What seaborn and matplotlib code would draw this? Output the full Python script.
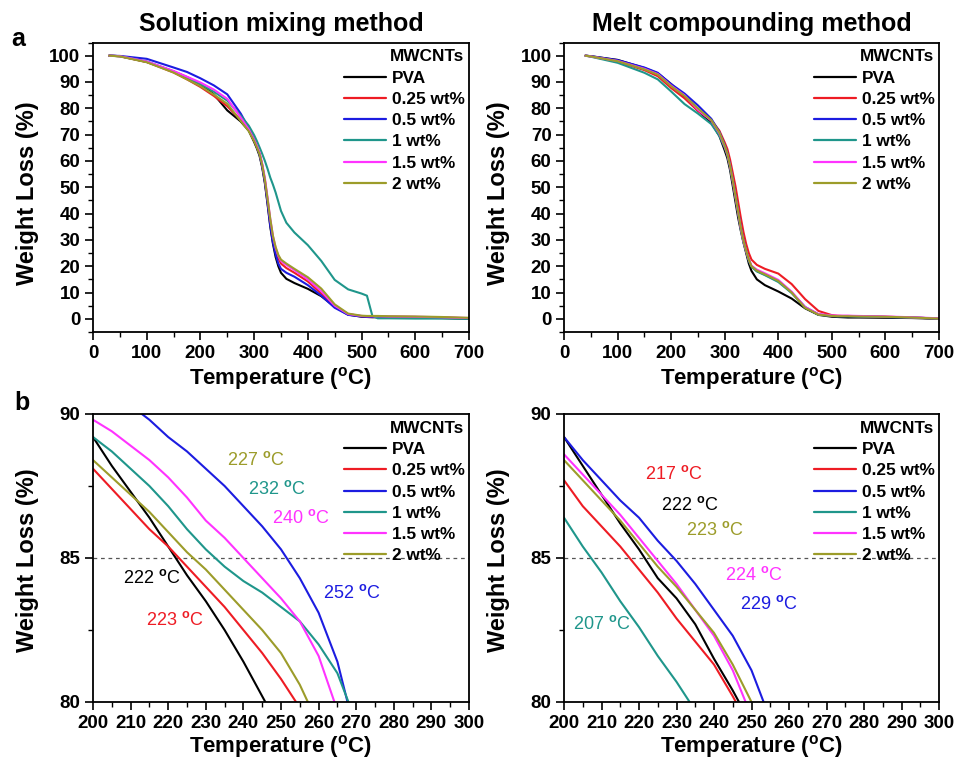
import matplotlib
matplotlib.use("Agg")
import matplotlib.pyplot as plt
import matplotlib.ticker as mticker
import pandas as pd
import seaborn as sns

# ---- data -------------------------------------------------------------
samples = ["PVA", "0.25 wt%", "0.5 wt%", "1 wt%", "1.5 wt%", "2 wt%"]
colors = ["#000000", "#ee1c24", "#1c1ce0", "#1f968b", "#ff33ff", "#9c9c2a"]

# (a) full TGA curves
temp_sol = [30, 50, 100, 150, 175, 200, 225, 250, 275, 290, 300, 305, 310, 315, 320,
            325, 330, 335, 340, 345, 350, 360, 375, 400, 425, 450, 475, 500, 510, 520,
            530, 550, 600, 650, 700]
temp_melt = [40, 50, 100, 150, 175, 200, 225, 250, 275, 290, 300, 305, 310, 315, 320,
             325, 330, 335, 340, 345, 350, 360, 375, 400, 425, 450, 475, 500, 510, 520,
             530, 550, 600, 650, 700]

sol_pva = [100, 99.8, 97.6, 94.0, 91.8, 89.2, 85.3, 79.2, 75.0, 71.5, 67.2, 64.8, 62.0, 57.5, 51.5,
           43.5, 35.0, 28.5, 23.5, 20.0, 17.5, 15.2, 13.6, 11.4, 8.6, 4.6, 1.6, 0.8, 0.7, 0.6,
           0.6, 0.5, 0.4, 0.3, 0.0]
sol_025 = [100, 99.8, 97.6, 93.6, 91.0, 88.1, 84.7, 80.8, 75.5, 72.0, 68.0, 65.5, 62.8, 58.5, 52.5,
           45.0, 37.0, 30.5, 26.0, 23.0, 21.0, 19.3, 17.5, 14.2, 9.6, 4.8, 1.8, 1.0, 0.9, 0.8,
           0.8, 0.8, 0.7, 0.5, 0.2]
sol_05 = [100, 99.9, 98.8, 95.5, 93.8, 91.4, 88.7, 85.3, 78.0, 72.5, 68.0, 65.5, 62.5, 58.0, 52.0,
          44.0, 35.5, 29.0, 24.5, 21.0, 19.0, 17.5, 16.0, 12.8, 8.8, 4.2, 1.5, 0.9, 0.8, 0.8,
          0.8, 0.7, 0.6, 0.4, 0.1]
sol_1 = [100, 99.8, 97.8, 94.0, 91.8, 89.2, 86.3, 82.9, 77.2, 73.4, 69.8, 67.6, 65.2, 62.7, 60.0,
         57.0, 53.7, 51.0, 48.0, 44.5, 41.0, 36.5, 32.8, 28.0, 22.0, 14.8, 11.2, 9.6, 8.8, 1.2,
         0.2, 0.2, 0.1, 0.1, 0.0]
sol_15 = [100, 99.8, 97.8, 94.2, 92.0, 89.8, 87.1, 83.6, 76.5, 72.0, 68.0, 65.8, 63.2, 59.0, 53.5,
          46.0, 38.0, 31.5, 27.0, 24.0, 22.0, 20.5, 18.5, 15.0, 10.5, 5.0, 1.8, 1.1, 1.0, 1.0,
          1.0, 0.9, 0.8, 0.6, 0.3]
sol_2 = [100, 99.7, 97.5, 93.6, 91.0, 88.4, 85.2, 81.7, 75.2, 71.3, 67.5, 65.2, 62.6, 58.5, 52.8,
         45.5, 38.0, 31.5, 27.3, 24.3, 22.5, 21.0, 19.0, 15.8, 11.5, 5.5, 2.0, 1.2, 1.1, 1.1,
         1.1, 1.0, 0.9, 0.7, 0.4]

melt_pva = [100, 99.8, 98.4, 95.3, 93.3, 89.2, 84.3, 79.2, 74.5, 69.5, 64.0, 61.0, 56.5, 50.5, 44.5,
            38.5, 33.5, 29.0, 25.0, 21.0, 18.2, 15.0, 12.8, 10.4, 7.7, 4.0, 1.5, 0.8, 0.7, 0.6,
            0.5, 0.5, 0.4, 0.3, 0.0]
melt_025 = [100, 99.7, 97.8, 94.5, 92.2, 87.7, 83.8, 79.0, 75.5, 71.5, 67.0, 64.5, 60.5, 55.5, 50.5,
            44.5, 38.5, 33.0, 28.5, 25.0, 22.5, 20.5, 19.0, 17.2, 13.2, 7.5, 3.0, 1.4, 1.2, 1.1,
            1.1, 1.0, 0.8, 0.5, 0.1]
melt_05 = [100, 99.8, 98.3, 95.5, 93.5, 89.2, 85.6, 81.1, 76.0, 71.0, 66.0, 63.0, 58.5, 53.0, 47.0,
           41.0, 35.0, 30.0, 26.0, 22.5, 20.0, 18.2, 16.8, 14.3, 10.0, 4.5, 1.7, 1.1, 1.0, 1.0,
           1.0, 0.9, 0.7, 0.5, 0.1]
melt_1 = [100, 99.6, 97.3, 93.5, 91.0, 86.4, 81.6, 78.0, 74.0, 69.5, 65.0, 62.0, 57.5, 52.0, 46.0,
          40.0, 34.0, 29.0, 25.5, 22.0, 19.8, 18.0, 16.6, 14.0, 9.8, 4.3, 1.6, 1.1, 1.0, 1.0,
          1.0, 0.9, 0.7, 0.5, 0.1]
melt_15 = [100, 99.7, 98.0, 95.0, 93.0, 88.6, 84.9, 79.5, 75.3, 70.5, 65.5, 62.5, 58.0, 52.5, 46.5,
           40.5, 34.5, 29.5, 25.8, 22.5, 20.2, 18.7, 17.3, 14.8, 10.3, 4.5, 1.8, 1.3, 1.2, 1.2,
           1.2, 1.1, 0.9, 0.6, 0.2]
melt_2 = [100, 99.7, 97.9, 94.8, 92.8, 88.4, 84.7, 80.0, 75.5, 70.8, 65.8, 62.8, 58.2, 52.8, 46.8,
          40.8, 34.8, 29.8, 26.0, 22.5, 20.0, 18.3, 16.9, 14.4, 10.0, 4.2, 1.6, 1.1, 1.0, 1.0,
          1.0, 0.9, 0.8, 0.5, 0.1]

# (b) zoom on 200-300 C
temp_zoom = [200, 205, 210, 215, 220, 225, 230, 235, 240, 245, 250, 255, 260, 265, 270]

zsol_pva = [89.2, 88.2, 87.3, 86.4, 85.4, 84.4, 83.5, 82.5, 81.4, 80.2, 79.0, 77.8, 76.6, 75.4, 74.2]
zsol_025 = [88.1, 87.4, 86.7, 86.0, 85.4, 84.7, 84.0, 83.3, 82.5, 81.7, 80.8, 79.8, 78.7, 77.5, 76.3]
zsol_05 = [91.4, 90.9, 90.3, 89.8, 89.2, 88.7, 88.1, 87.5, 86.8, 86.1, 85.3, 84.3, 83.1, 81.4, 78.8]
zsol_1 = [89.2, 88.7, 88.1, 87.5, 86.8, 86.0, 85.3, 84.7, 84.2, 83.8, 83.3, 82.8, 82.0, 81.0, 79.3]
zsol_15 = [89.8, 89.4, 88.9, 88.4, 87.8, 87.1, 86.3, 85.7, 85.0, 84.3, 83.6, 82.8, 81.6, 79.7, 77.5]
zsol_2 = [88.4, 87.8, 87.2, 86.6, 85.9, 85.2, 84.6, 83.9, 83.2, 82.5, 81.7, 80.6, 79.2, 77.7, 76.2]

zmelt_pva = [89.2, 88.2, 87.2, 86.2, 85.3, 84.3, 83.6, 82.7, 81.5, 80.4, 79.2, 78.0, 76.8, 75.6, 74.4]
zmelt_025 = [87.7, 86.8, 86.1, 85.4, 84.6, 83.8, 82.9, 82.1, 81.3, 80.2, 79.0, 77.8, 76.5, 75.2, 73.9]
zmelt_05 = [89.2, 88.4, 87.7, 87.0, 86.4, 85.6, 84.9, 84.1, 83.2, 82.3, 81.1, 79.4, 77.6, 75.6, 73.5]
zmelt_1 = [86.4, 85.4, 84.5, 83.5, 82.6, 81.6, 80.7, 79.7, 78.7, 77.7, 76.7, 75.7, 74.7, 73.7, 72.7]
zmelt_15 = [88.6, 87.9, 87.2, 86.5, 85.7, 84.9, 84.1, 83.2, 82.3, 81.1, 79.5, 77.9, 76.3, 74.7, 73.1]
zmelt_2 = [88.4, 87.7, 87.0, 86.3, 85.5, 84.7, 84.0, 83.2, 82.4, 81.3, 80.0, 78.6, 77.2, 75.8, 74.4]

# onset temperatures at 85 %
onset_sol = [222, 223, 252, 232, 240, 227]
onset_melt = [222, 217, 229, 207, 224, 223]
# where the onset labels sit (T, W)
label_pos_sol = [(215.6, 84.3), (221.8, 82.85), (268.8, 83.8), (249.0, 87.4), (255.4, 86.4), (243.2, 88.4)]
label_pos_melt = [(233.6, 86.84), (229.2, 87.9), (254.7, 83.4), (210.0, 82.7), (250.5, 84.4), (240.3, 85.97)]


# ---- style ------------------------------------------------------------
sns.set_theme(style="ticks")
plt.rcParams["font.family"] = ["Liberation Sans", "DejaVu Sans"]
plt.rcParams["font.weight"] = "bold"
plt.rcParams["mathtext.fontset"] = "custom"
plt.rcParams["mathtext.rm"] = "Liberation Sans"
plt.rcParams["mathtext.bf"] = "Liberation Sans:bold"
plt.rcParams["axes.linewidth"] = 1.3
for key in ["text.color", "axes.labelcolor", "axes.edgecolor", "xtick.color", "ytick.color"]:
    plt.rcParams[key] = "black"

W, H = 957, 759


def rect(x0, y0, x1, y1):
    return [x0 / W, 1 - y1 / H, (x1 - x0) / W, (y1 - y0) / H]


def long_frame(temps, curves):
    rows = []
    for name, vals in zip(samples, curves):
        for t, w in zip(temps, vals):
            rows.append({"T": t, "W": w, "sample": name})
    return pd.DataFrame(rows)


def draw(ax, df):
    sns.lineplot(data=df, x="T", y="W", hue="sample", hue_order=samples,
                 palette=colors, estimator=None, sort=False, lw=1.5, ax=ax)
    handles, labels = ax.get_legend_handles_labels()
    leg = ax.legend(handles, labels, title="MWCNTs", loc="upper right",
                    bbox_to_anchor=(0.995, 0.985), frameon=False, fontsize=12.4,
                    title_fontproperties={"weight": "bold", "size": 12.4},
                    handlelength=2.4, handletextpad=0.35, labelspacing=0.36,
                    borderaxespad=0.0, borderpad=0.15)
    for line in leg.get_lines():
        line.set_linewidth(1.6)
    leg._legend_box.align = "right"
    ax.set_xlabel("")
    ax.set_ylabel("")
    ax.tick_params(which="both", direction="out", top=False, right=False,
                   labelsize=13.5, pad=3)
    ax.tick_params(which="major", length=6, width=1.2)
    ax.tick_params(which="minor", length=3.5, width=1.0)


fig = plt.figure(figsize=(W / 100, H / 100), dpi=100)

top_frames = [long_frame(temp_sol, [sol_pva, sol_025, sol_05, sol_1, sol_15, sol_2]),
              long_frame(temp_melt, [melt_pva, melt_025, melt_05, melt_1, melt_15, melt_2])]
zoom_frames = [long_frame(temp_zoom, [zsol_pva, zsol_025, zsol_05, zsol_1, zsol_15, zsol_2]),
               long_frame(temp_zoom, [zmelt_pva, zmelt_025, zmelt_05, zmelt_1, zmelt_15, zmelt_2])]
onsets = [onset_sol, onset_melt]
label_pos = [label_pos_sol, label_pos_melt]
titles = ["Solution mixing method", "Melt compounding method"]
cols = [(93, 469), (564, 939)]

for i, (x0, x1) in enumerate(cols):
    # top row
    ax = fig.add_axes(rect(x0, 42.5, x1, 332))
    draw(ax, top_frames[i])
    ax.set_xlim(0, 700)
    ax.set_ylim(-5, 105)
    ax.xaxis.set_major_locator(mticker.MultipleLocator(100))
    ax.xaxis.set_minor_locator(mticker.MultipleLocator(50))
    ax.yaxis.set_major_locator(mticker.MultipleLocator(10))
    ax.yaxis.set_minor_locator(mticker.MultipleLocator(5))
    for lab in ax.get_xticklabels() + ax.get_yticklabels():
        lab.set_fontweight("bold")

    cx = (x0 + x1) / 2
    fig.text(cx / W, 1 - 31 / H, titles[i], ha="center", va="baseline",
             fontsize=18, fontweight="bold")
    fig.text(cx / W, 1 - 378 / H, "Temperature ($^{\\mathbf{o}}$C)", ha="center",
             va="center", fontsize=16, fontweight="bold")
    fig.text((x0 - 65) / W, 1 - 193 / H, "Weight Loss (%)", ha="center", va="center",
             rotation=90, fontsize=17, fontweight="bold")

    # bottom row
    ax = fig.add_axes(rect(x0, 414, x1, 702))
    draw(ax, zoom_frames[i])
    ax.axhline(85, color="#555555", lw=0.9, ls=(0, (3, 3)), zorder=0)
    ax.set_xlim(200, 300)
    ax.set_ylim(80, 90)
    ax.xaxis.set_major_locator(mticker.MultipleLocator(10))
    ax.xaxis.set_minor_locator(mticker.MultipleLocator(5))
    ax.yaxis.set_major_locator(mticker.MultipleLocator(5))
    ax.yaxis.set_minor_locator(mticker.MultipleLocator(2.5))
    for lab in ax.get_xticklabels() + ax.get_yticklabels():
        lab.set_fontweight("bold")
    for name, color, t, (tx, ty) in zip(samples, colors, onsets[i], label_pos[i]):
        ax.text(tx, ty, f"{t} $^{{\\mathrm{{o}}}}$C", color=color, ha="center",
                va="center", fontsize=13, fontweight="normal")

    fig.text(cx / W, 1 - 747 / H, "Temperature ($^{\\mathbf{o}}$C)", ha="center",
             va="center", fontsize=16, fontweight="bold")
    fig.text((x0 - 65) / W, 1 - 560 / H, "Weight Loss (%)", ha="center", va="center",
             rotation=90, fontsize=17, fontweight="bold")

fig.text(18.5 / W, 1 - 46 / H, "a", ha="center", va="baseline", fontsize=18, fontweight="bold")
fig.text(21.5 / W, 1 - 410 / H, "b", ha="center", va="baseline", fontsize=18, fontweight="bold")

fig.savefig("out.png", dpi=100)
